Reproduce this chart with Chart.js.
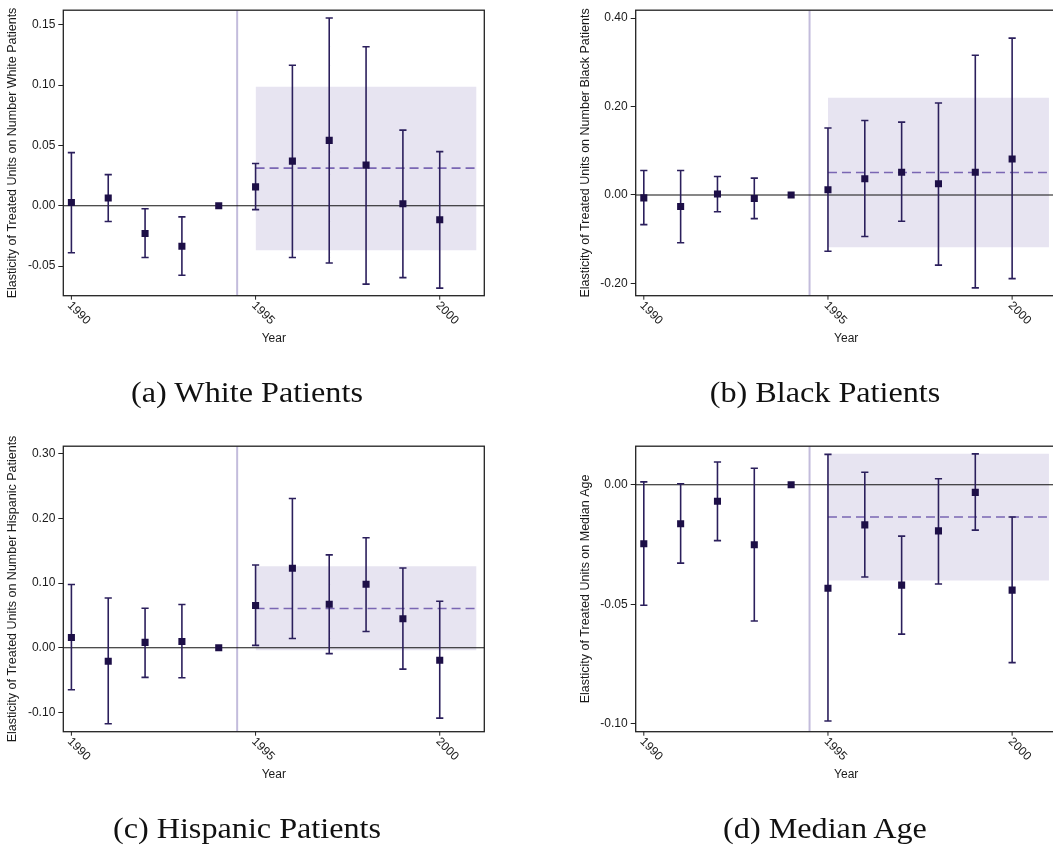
<!DOCTYPE html>
<html><head><meta charset="utf-8">
<script src="https://cdn.jsdelivr.net/npm/chart.js@4.4.0/dist/chart.umd.min.js"></script>
<style>
html,body{margin:0;padding:0;background:#fff;overflow:hidden;width:1053px;height:846px;position:relative;}
canvas{position:absolute;}
.cap{position:absolute;font-family:"Liberation Serif","Times New Roman",serif;font-size:29px;color:#111;white-space:nowrap;transform:translate(-50%,-50%) scaleX(1.11);}
</style></head><body>
<canvas id="cA"></canvas><canvas id="cB"></canvas><canvas id="cC"></canvas><canvas id="cD"></canvas>
<div class="cap" id="capA">(a) White Patients</div>
<div class="cap" id="capB">(b) Black Patients</div>
<div class="cap" id="capC">(c) Hispanic Patients</div>
<div class="cap" id="capD">(d) Median Age</div>
<script>
// ---------- data ----------
const years = [1990,1991,1992,1993,1994,1995,1996,1997,1998,1999,2000];
const xTickLabelStep = 5;
const treatmentLine = 1994.5;
const postStart = 1995, postEnd = 2001;

const whiteEst = [0.0027,0.0063,-0.0230,-0.0336,0,0.0156,0.0369,0.0541,0.0336,0.0016,-0.0117];
const whiteLo  = [-0.0390,-0.0131,-0.0429,-0.0577,null,-0.0033,-0.0429,-0.0475,-0.0650,-0.0596,-0.0683];
const whiteHi  = [0.0440,0.0257,-0.0025,-0.0093,null,0.0350,0.1164,0.1555,0.1317,0.0626,0.0448];
const whitePost = [0.0311,-0.0369,0.0986]; // mean, ci low, ci high

const blackEst = [-0.0067,-0.0261,0.0022,-0.0082,0,0.0119,0.0365,0.0514,0.0253,0.0514,0.0813];
const blackLo  = [-0.0671,-0.1081,-0.0380,-0.0537,null,-0.1275,-0.0939,-0.0596,-0.1588,-0.2102,-0.1893];
const blackHi  = [0.0552,0.0552,0.0417,0.0380,null,0.1513,0.1685,0.1647,0.2080,0.3160,0.3548];
const blackPost = [0.0507,-0.1185,0.2200];

const hispEst = [0.0158,-0.0209,0.0082,0.0097,0,0.0652,0.1228,0.0673,0.0983,0.0448,-0.0194];
const hispLo  = [-0.0652,-0.1177,-0.0459,-0.0464,null,0.0036,0.0143,-0.0092,0.0250,-0.0331,-0.1090];
const hispHi  = [0.0978,0.0769,0.0611,0.0668,null,0.1279,0.2308,0.1437,0.1702,0.1233,0.0718];
const hispPost = [0.0606,-0.0041,0.1259];

const ageEst = [-0.0247,-0.0163,-0.0069,-0.0251,0,-0.0433,-0.0168,-0.0420,-0.0193,-0.0032,-0.0441];
const ageLo  = [-0.0504,-0.0328,-0.0234,-0.0570,null,-0.0988,-0.0386,-0.0625,-0.0415,-0.0190,-0.0744];
const ageHi  = [0.0012,0.0004,0.0095,0.0069,null,0.0127,0.0052,-0.0215,0.0025,0.0129,-0.0135];
const agePost = [-0.0135,-0.0401,0.0129];

const yTitles = [
  'Elasticity of Treated Units on Number White Patients',
  'Elasticity of Treated Units on Number Black Patients',
  'Elasticity of Treated Units on Number Hispanic Patients',
  'Elasticity of Treated Units on Median Age'
];
const yRanges = [[-0.0746,0.162,0.05],[-0.228,0.418,0.2],[-0.130,0.3118,0.1],[-0.1033,0.0161,0.05]];
const xRange = [1989.78, 2001.21];

// ---------- styles ----------
const C_MARK = '#1d0f47', C_BAR = '#2b1f5c', C_DASH = '#7a66b3', C_VLINE = '#c3bcdc', C_BAND = '#e7e4f1';
Chart.defaults.font.family = '"Liberation Sans", Arial, sans-serif';
Chart.defaults.font.size = 12;
Chart.defaults.color = '#1a1a1a';

// layout of panels (page pixels)
const layouts = [
  {id:'cA', left:0,   top:0,   w:526, h:436, pl:63.3,  pt:6.7,   pr:484.3,  pb:295.7},
  {id:'cB', left:526, top:0,   w:544, h:436, pl:635.7, pt:6.7,   pr:1056.7, pb:295.7},
  {id:'cC', left:0,   top:436, w:526, h:410, pl:63.3,  pt:442.7, pr:484.3,  pb:731.7},
  {id:'cD', left:526, top:436, w:544, h:410, pl:635.7, pt:442.7, pr:1056.7, pb:731.7}
];
const captions = [['capA',247,392],['capB',825,392],['capC',247,828],['capD',825,828]];
captions.forEach(([id,x,y])=>{const e=document.getElementById(id);e.style.left=x+'px';e.style.top=y+'px';});

const decor = {
  id:'decor',
  afterDraw(chart){
    const ctx = chart.ctx, a = chart.chartArea, xs = chart.scales.x;
    const o = chart.options.plugins.decor;
    ctx.save();
    // frame
    ctx.strokeStyle = '#222'; ctx.lineWidth = 1.3;
    ctx.strokeRect(a.left, a.top, a.right - a.left, a.bottom - a.top);
    // x ticks + rotated labels
    ctx.fillStyle = '#1a1a1a'; ctx.font = '12px "Liberation Sans", Arial, sans-serif';
    ctx.textAlign = 'left'; ctx.textBaseline = 'middle';
    xs.ticks.forEach(t=>{
      const px = xs.getPixelForValue(t.value);
      ctx.beginPath(); ctx.lineWidth = 1; ctx.strokeStyle = '#222';
      ctx.moveTo(px, a.bottom); ctx.lineTo(px, a.bottom + 4); ctx.stroke();
      ctx.save(); ctx.translate(px - 2, a.bottom + 8); ctx.rotate(Math.PI/4);
      ctx.fillText(String(t.value), 0, 0); ctx.restore();
    });
    ctx.textAlign = 'center';
    ctx.fillText('Year', (a.left + a.right)/2, a.bottom + 42.5);
    // y title
    ctx.save(); ctx.translate(a.left - 50.5, (a.top + a.bottom)/2); ctx.rotate(-Math.PI/2);
    ctx.font = '12.5px "Liberation Sans", Arial, sans-serif';
    ctx.fillText(o.title, 0, 0); ctx.restore();
    ctx.restore();
  }
};

function makeChart(i, est, lo, hi, post){
  const L = layouts[i];
  const cv = document.getElementById(L.id);
  cv.width = L.w; cv.height = L.h;
  cv.style.left = L.left + 'px'; cv.style.top = L.top + 'px';
  const yAxisW = L.pl - L.left, xAxisH = L.top + L.h - L.pb;
  const [ymin, ymax, ystep] = yRanges[i];

  const pts = years.map((y,k)=>({x:y, y:est[k]}));
  const bars = [];
  years.forEach((y,k)=>{ if(lo[k]!==null){ bars.push({x:y,y:lo[k]},{x:y,y:hi[k]},{x:y,y:null}); } });

  return new Chart(cv, {
    type:'line',
    data:{datasets:[
      {data:pts, showLine:false, pointStyle:'rect', pointRadius:5, pointBorderWidth:0,
       pointBackgroundColor:C_MARK, pointBorderColor:C_MARK, order:1},
      {data:bars, borderColor:C_BAR, borderWidth:1.6, spanGaps:false, pointStyle:'line',
       pointRadius:3.6, pointBorderWidth:1.6, pointBorderColor:C_BAR, order:2},
      {data:[{x:postStart,y:post[0]},{x:postEnd,y:post[0]}], borderColor:C_DASH, borderWidth:1.6,
       borderDash:[9,5], pointRadius:0, order:3},
      {data:[{x:xRange[0],y:0},{x:xRange[1],y:0}], borderColor:'#111', borderWidth:1.1, pointRadius:0, order:4},
      {data:[{x:treatmentLine,y:ymin},{x:treatmentLine,y:ymax}], borderColor:C_VLINE, borderWidth:2, pointRadius:0, order:5},
      {data:[{x:postStart,y:post[2]},{x:postEnd,y:post[2]}], borderWidth:0, borderColor:'rgba(0,0,0,0)',
       backgroundColor:C_BAND, fill:{value:post[1]}, pointRadius:0, order:6}
    ]},
    options:{
      responsive:false, animation:false, devicePixelRatio:1,
      layout:{padding:{left:0, top:L.pt - L.top, right:L.left + L.w - L.pr, bottom:0}},
      plugins:{legend:{display:false}, tooltip:{enabled:false}, decor:{title:yTitles[i]}},
      scales:{
        x:{type:'linear', min:xRange[0], max:xRange[1],
           ticks:{display:false, stepSize:xTickLabelStep, includeBounds:false},
           grid:{display:false}, border:{display:false},
           afterFit(s){ s.height = xAxisH; }},
        y:{type:'linear', min:ymin, max:ymax,
           ticks:{stepSize:ystep, includeBounds:false, padding:3, color:'#1a1a1a',
                  font:{size:12}, callback:v=>Number(v).toFixed(2)},
           grid:{drawOnChartArea:false, tickLength:5, tickColor:'#222', tickWidth:1},
           border:{display:false},
           afterFit(s){ s.width = yAxisW; }}
      }
    },
    plugins:[decor]
  });
}
makeChart(0, whiteEst, whiteLo, whiteHi, whitePost);
makeChart(1, blackEst, blackLo, blackHi, blackPost);
makeChart(2, hispEst, hispLo, hispHi, hispPost);
makeChart(3, ageEst, ageLo, ageHi, agePost);
</script>
</body></html>
